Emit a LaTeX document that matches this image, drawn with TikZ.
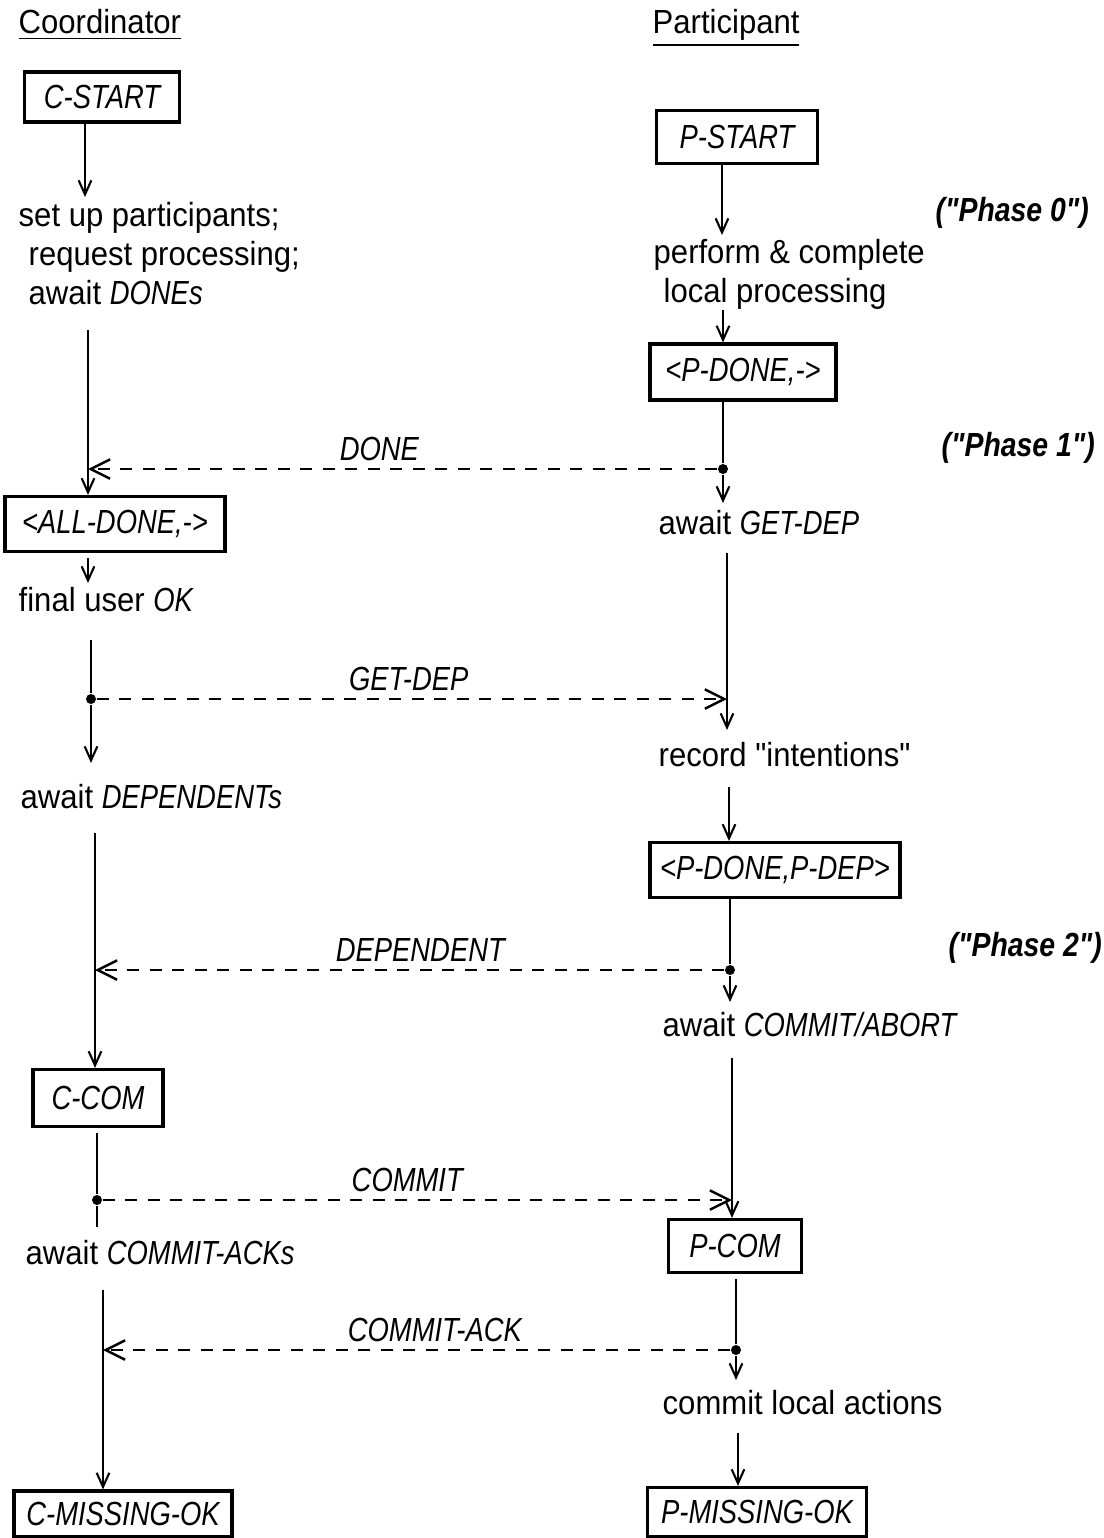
\documentclass[tikz,border=0pt]{standalone}
\usepackage{fontspec}
\setmainfont{Liberation Sans}[
  Ligatures=TeXOff,
  UprightFeatures={FakeStretch=0.93},
  ItalicFeatures={FakeStretch=0.82},
  BoldItalicFeatures={FakeStretch=0.85}
]
\usetikzlibrary{arrows.meta, positioning, calc}

\begin{document}
\begin{tikzpicture}[
  x=0.01cm, y=-0.01cm,
  every node/.style={font=\fontsize{9.5}{11.1}\selectfont},
  state/.style={
    rectangle, draw, line width=0.9pt, inner sep=0pt,
    font=\fontsize{9.5}{11.1}\selectfont\itshape
  },
  stext/.style={anchor=west, inner sep=0pt, align=left},
  head/.style={anchor=base west, inner sep=0pt},
  phase/.style={anchor=west, inner sep=0pt, font=\fontsize{9.5}{11.1}\selectfont\bfseries\itshape},
  flow/.style={-{Straight Barb[length=4pt, width=3.6pt]}, line width=0.6pt},
  lifeline/.style={line width=0.6pt},
  msg/.style={-{Straight Barb[length=5.5pt, width=5.5pt]}, line width=0.7pt, dash pattern=on 3.4pt off 3pt},
  msgdot/.style={circle, fill, inner sep=0pt, minimum size=0.1cm},
  msgname/.style={above, inner sep=2pt, font=\fontsize{9.5}{11.1}\selectfont\itshape}
]
\useasboundingbox (0,0) rectangle (1104,1538);

%% Column headings
\node[head] (coord) at (18,33)  {\underline{Coordinator}};
\node[head] (part)  at (652,33) {\underline{Participant}};

%% Coordinator side
\node[state, minimum width=1.55cm, minimum height=0.50cm] (cstart) at (102,97) {C-START};
\node[stext] (setup) at (18,254) {set up participants;\\\hspace{0.1cm}request processing;\\\hspace{0.1cm}await \textit{DONEs}};
\node[state, minimum width=2.20cm, minimum height=0.55cm] (alldone) at (115,524) {<ALL-DONE,->};
\node[stext] (finalok) at (18,600) {final user \textit{OK}};
\node[stext] (awaitdep) at (20,797) {await \textit{DEPENDENTs}};
\node[state, minimum width=1.30cm, minimum height=0.57cm] (ccom) at (98,1098) {C-COM};
\node[stext] (awaitack) at (25,1253) {await \textit{COMMIT-ACKs}};
\node[state, minimum width=2.18cm, minimum height=0.46cm] (cmiss) at (123,1514) {C-MISSING-OK};

%% Participant side
\node[state, minimum width=1.61cm, minimum height=0.53cm] (pstart) at (737,137) {P-START};
\node[stext] (perform) at (653,274) {perform \& complete\\\hspace{0.1cm}local processing};
\node[state, minimum width=1.86cm, minimum height=0.56cm] (pdone) at (743,372) {<P-DONE,->};
\node[stext] (awaitget) at (658,523) {await \textit{GET-DEP}};
\node[stext] (record) at (658,755) {record "intentions"};
\node[state, minimum width=2.50cm, minimum height=0.55cm] (pdonedep) at (775,870) {<P-DONE,P-DEP>};
\node[stext] (awaitca) at (662,1025) {await \textit{COMMIT/ABORT}};
\node[state, minimum width=1.33cm, minimum height=0.53cm] (pcom) at (735,1246) {P-COM};
\node[stext] (commitloc) at (662,1403) {commit local actions};
\node[state, minimum width=2.19cm, minimum height=0.49cm] (pmiss) at (757,1512) {P-MISSING-OK};

%% Phase marks
\node[phase] (ph0) at (935,213) {("Phase 0")};
\node[phase] (ph1) at (941,448) {("Phase 1")};
\node[phase] (ph2) at (948,948) {("Phase 2")};

%% Coordinator line
\coordinate (c1) at (85,197);
\coordinate (c2) at (88,330);
\coordinate (c3) at (88,583);
\coordinate (c4) at (91,640);
\coordinate (c5) at (91,763);
\coordinate (c6) at (95,833);
\coordinate (c7) at (97,1227);
\coordinate (c8) at (103,1290);
\node[msgdot] (sGet) at (91,699) {};
\node[msgdot] (sCom) at (97,1200) {};
\draw[flow] (cstart.south -| c1) -- (c1);
\draw[flow] (c2) -- (alldone.north -| c2);
\draw[flow] ([yshift=-1.5pt]alldone.south -| c3) -- (c3);
\draw[lifeline] (c4) -- (sGet);
\draw[flow] (sGet) -- (c5);
\draw[flow] (c6) -- (ccom.north -| c6);
\draw[lifeline] ([yshift=-1.5pt]ccom.south -| sCom) -- (sCom) -- (c7);
\draw[flow] (c8) -- (cmiss.north -| c8);

%% Participant line
\coordinate (p1) at (722,235);
\coordinate (p2) at (723,310);
\coordinate (p3) at (723,503);
\coordinate (p4) at (727,553);
\coordinate (p5) at (727,730);
\coordinate (p6) at (729,787);
\coordinate (p7) at (730,1002);
\coordinate (p8) at (732,1058);
\coordinate (p9) at (736,1380);
\coordinate (p10) at (738,1433);
\node[msgdot] (sDone) at (723,469) {};
\node[msgdot] (sDep) at (730,970) {};
\node[msgdot] (sAck) at (736,1350) {};
\draw[flow] (pstart.south -| p1) -- (p1);
\draw[flow] (p2) -- (pdone.north -| p2);
\draw[lifeline] (pdone.south -| sDone) -- (sDone);
\draw[flow] (sDone) -- (p3);
\draw[flow] (p4) -- (p5);
\draw[flow] (p6) -- (pdonedep.north -| p6);
\draw[lifeline] (pdonedep.south -| sDep) -- (sDep);
\draw[flow] (sDep) -- (p7);
\draw[flow] (p8) -- (pcom.north -| p8);
\draw[lifeline] ([yshift=-1.5pt]pcom.south -| sAck) -- (sAck);
\draw[flow] (sAck) -- (p9);
\draw[flow] (p10) -- (pmiss.north -| p10);

%% Messages
\coordinate (rDone) at (88,469);
\coordinate (rGet) at (727,699);
\coordinate (rDep) at (95,970);
\coordinate (rCom) at (732,1200);
\coordinate (rAck) at (103,1350);
\draw[msg] (sDone) -- node[msgname, pos=0.537] (lDone) {DONE} (rDone);
\draw[msg] (sGet) -- node[msgname, pos=0.495] (lGet) {GET-DEP} (rGet);
\draw[msg] (sDep) -- node[msgname, pos=0.483] (lDep) {DEPENDENT} (rDep);
\draw[msg] (sCom) -- node[msgname, pos=0.484] (lCom) {COMMIT} (rCom);
\draw[msg] (sAck) -- node[msgname, pos=0.471] (lAck) {COMMIT-ACK} (rAck);

\end{tikzpicture}
\end{document}
